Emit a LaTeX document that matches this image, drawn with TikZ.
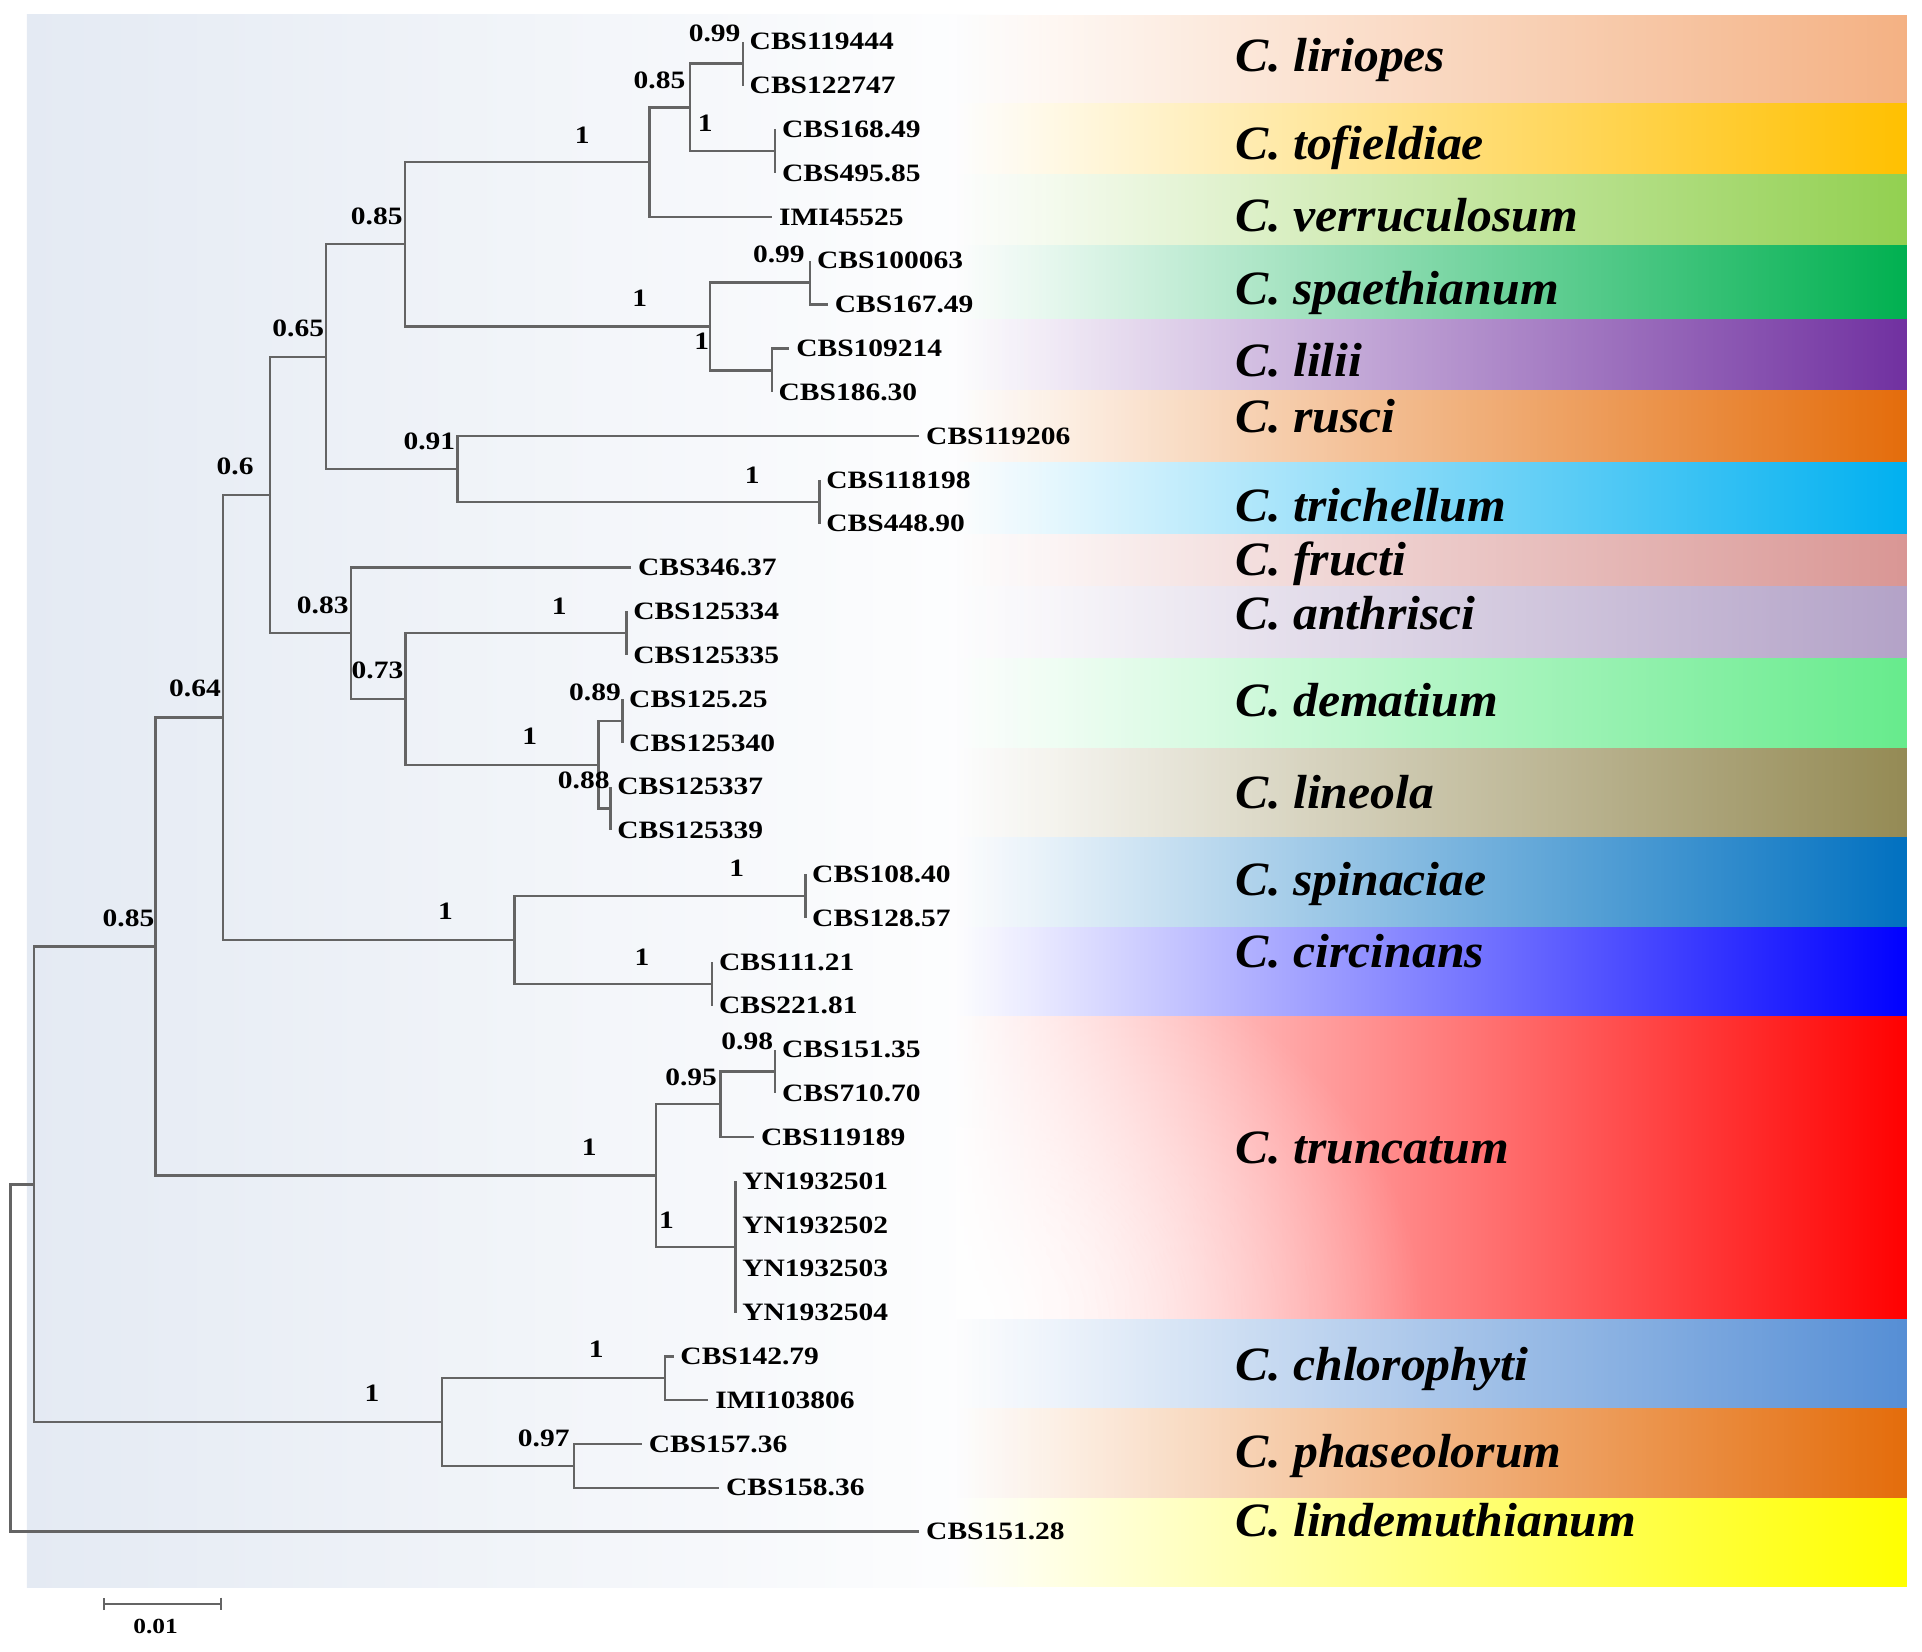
\documentclass[tikz,border=0pt]{standalone}
\usepackage{fontspec}
\setmainfont{Liberation Serif}
\newfontfamily\leaffont{Liberation Serif}[FakeStretch=1.18]
\newfontfamily\sppfont{Liberation Serif}[FakeStretch=1.04]
\usetikzlibrary{arrows.meta,fadings}

\definecolor{panelblue}{RGB}{228,234,243}
\definecolor{branchgray}{RGB}{100,100,100}
\definecolor{cliriopes}{RGB}{244,177,131}
\definecolor{ctofieldiae}{RGB}{255,192,0}
\definecolor{cverruculosum}{RGB}{146,208,80}
\definecolor{cspaethianum}{RGB}{0,176,80}
\definecolor{clilii}{RGB}{112,48,160}
\definecolor{crusci}{RGB}{228,108,10}
\definecolor{ctrichellum}{RGB}{0,176,240}
\definecolor{cfructi}{RGB}{217,150,148}
\definecolor{canthrisci}{RGB}{179,162,199}
\definecolor{cdematium}{RGB}{102,235,140}
\definecolor{clineola}{RGB}{148,138,84}
\definecolor{cspinaciae}{RGB}{0,112,192}
\definecolor{ccircinans}{RGB}{0,0,255}
\definecolor{ctruncatum}{RGB}{255,0,0}
\definecolor{cchlorophyti}{RGB}{85,142,213}
\definecolor{cphaseolorum}{RGB}{228,108,10}
\definecolor{clindemuthianum}{RGB}{255,255,0}

\tikzfading[name=band fade, left color=transparent!100, right color=transparent!0]
\tikzfading[name=corner fade, inner color=transparent!0, outer color=transparent!100]

\begin{document}
\begin{tikzpicture}[x=0.01cm, y=-0.01cm,
    leaf/.style={anchor=west, inner xsep=1.4pt, inner ysep=0.5pt, font=\leaffont\bfseries\fontsize{5.8}{7}\selectfont},
    boot/.style={inner sep=0pt, font=\leaffont\bfseries\fontsize{5.8}{7}\selectfont},
    spp/.style={anchor=base west, inner sep=0pt, font=\sppfont\bfseries\itshape\fontsize{11.1}{13}\selectfont},
    branch/.style={draw=branchgray, line width=0.55pt},
]
\useasboundingbox (0,0) rectangle (1568,1347);

% background panel and clade bands
\fill[left color=panelblue, right color=white] (22,12) rectangle (850,1295);
\foreach \ya/\yb/\sp in {12/84/liriopes, 84/142/tofieldiae, 142/200/verruculosum,
    200/260/spaethianum, 260/318/lilii, 318/377/rusci, 377/436/trichellum,
    436/478/fructi, 478/537/anthrisci, 537/610/dematium, 610/683/lineola,
    683/756/spinaciae, 756/829/circinans, 829/1076/truncatum,
    1076/1149/chlorophyti, 1149/1222/phaseolorum, 1222/1295/lindemuthianum}
  \fill[fill=c\sp, path fading=band fade] (780,\ya) rectangle (1556,\yb);
\begin{scope}
  \clip (780,829) rectangle (1556,1076);
  \fill[white, path fading=corner fade] (780,1080) ellipse [x radius=380, y radius=320];
\end{scope}

% species names
\foreach \yy/\sp in {58/liriopes, 130.5/tofieldiae, 188.8/verruculosum,
    248.7/spaethianum, 307/lilii, 352.8/rusci, 425.3/trichellum,
    469.4/fructi, 513.7/anthrisci, 584.5/dematium, 659.5/lineola,
    730.3/spinaciae, 788.9/circinans, 949.3/truncatum,
    1126.1/chlorophyti, 1196.8/phaseolorum, 1253.7/lindemuthianum}
  \node[spp] (sp\sp) at (1007,\yy) {C. \sp};

% leaves
\foreach \x/\lab [count=\i from 0] in {606/CBS119444, 606/CBS122747,
    632.5/CBS168.49, 632.5/CBS495.85, 630/IMI45525, 661/CBS100063,
    675.5/CBS167.49, 644/CBS109214, 629.6/CBS186.30, 750/CBS119206,
    668.6/CBS118198, 668.6/CBS448.90, 515/CBS346.37, 511/CBS125334,
    511/CBS125335, 507.7/CBS125.25, 507.7/CBS125340, 498/CBS125337,
    498/CBS125339, 657/CBS108.40, 657/CBS128.57, 581/CBS111.21,
    581/CBS221.81, 632.5/CBS151.35, 632.5/CBS710.70, 615.3/CBS119189,
    600/YN1932501, 600/YN1932502, 600/YN1932503, 600/YN1932504,
    549.5/CBS142.79, 578/IMI103806, 523.7/CBS157.36, 586.7/CBS158.36,
    750/CBS151.28}
  \node[leaf] (l\i) at (\x,{34+35.75*\i}) {\lab};

% internal nodes
\coordinate (n01) at (606,51.9);
\coordinate (n23) at (632.5,123.4);
\coordinate (n0123) at (563,87.6);
\coordinate (n04) at (530,132.3);
\coordinate (n56) at (661,230.6);
\coordinate (n78) at (629.6,302.1);
\coordinate (n58) at (579.3,266.4);
\coordinate (n08) at (330.3,199.3);
\coordinate (n1011) at (668.6,409.4);
\coordinate (n911) at (373.2,382.6);
\coordinate (n011) at (266.2,291);
\coordinate (n1314) at (511,516.6);
\coordinate (n1516) at (507.7,588.1);
\coordinate (n1718) at (498,659.6);
\coordinate (n1518) at (488.3,623.9);
\coordinate (n1318) at (330.8,570.3);
\coordinate (n1218) at (286.2,516.6);
\coordinate (n018) at (220.4,403.8);
\coordinate (n1920) at (657,731.1);
\coordinate (n2122) at (581,802.6);
\coordinate (n1922) at (419.6,766.9);
\coordinate (n022) at (182,585.3);
\coordinate (n2324) at (632.5,874.1);
\coordinate (n2325) at (587.9,900.9);
\coordinate (n2629) at (600,1017.1);
\coordinate (n2329) at (535.2,959);
\coordinate (n029) at (127,772.2);
\coordinate (n3031) at (542.6,1124.4);
\coordinate (n3233) at (468.2,1195.9);
\coordinate (n3033) at (360.6,1160.1);
\coordinate (n033) at (27.5,966.2);
\coordinate (root) at (8.6,1107.8);

% branches
\foreach \p/\c in {n01/l0, n01/l1, n23/l2, n23/l3, n0123/n01, n0123/n23,
    n04/n0123, n04/l4, n56/l5, n56/l6, n78/l7, n78/l8, n58/n56, n58/n78,
    n08/n04, n08/n58, n1011/l10, n1011/l11, n911/l9, n911/n1011,
    n011/n08, n011/n911, n1314/l13, n1314/l14, n1516/l15, n1516/l16,
    n1718/l17, n1718/l18, n1518/n1516, n1518/n1718, n1318/n1314,
    n1318/n1518, n1218/l12, n1218/n1318, n018/n011, n018/n1218,
    n1920/l19, n1920/l20, n2122/l21, n2122/l22, n1922/n1920, n1922/n2122,
    n022/n018, n022/n1922, n2324/l23, n2324/l24, n2325/n2324, n2325/l25,
    n2629/l26, n2629/l27, n2629/l28, n2629/l29, n2329/n2325, n2329/n2629,
    n029/n022, n029/n2329, n3031/l30, n3031/l31, n3233/l32, n3233/l33,
    n3033/n3031, n3033/n3233, n033/n029, n033/n3033, root/n033, root/l34}
  \draw[branch] (\p) |- (\c);

% support values
\node[boot] (s01) at (583,27) {0.99};
\node[boot] (s0123) at (538,65.6) {0.85};
\node[boot] (s23) at (575.3,100.5) {1};
\node[boot] (s04) at (475,110) {1};
\node[boot] (s08) at (307.4,176.9) {0.85};
\node[boot] (s56) at (635.4,207.5) {0.99};
\node[boot] (s58) at (522,243.3) {1};
\node[boot] (s78) at (572.4,278.3) {1};
\node[boot] (s011) at (243.3,268) {0.65};
\node[boot] (s911) at (350.3,359.9) {0.91};
\node[boot] (s1011) at (613.6,387.5) {1};
\node[boot] (s018) at (191.8,380.2) {0.6};
\node[boot] (s1218) at (263.3,493.5) {0.83};
\node[boot] (s1314) at (456.2,494.4) {1};
\node[boot] (s1318) at (308,546.9) {0.73};
\node[boot] (s1516) at (485.4,565.2) {0.89};
\node[boot] (s1518) at (432.2,600.8) {1};
\node[boot] (s1718) at (476.2,636.3) {0.88};
\node[boot] (s022) at (159.1,561.4) {0.64};
\node[boot] (s1920) at (601,708) {1};
\node[boot] (s1922) at (363.5,743.5) {1};
\node[boot] (s2122) at (523.8,780.8) {1};
\node[boot] (s029) at (104.8,748.8) {0.85};
\node[boot] (s2324) at (609.6,849.9) {0.98};
\node[boot] (s2325) at (563.8,879) {0.95};
\node[boot] (s2329) at (480.8,936) {1};
\node[boot] (s2629) at (543.8,995.4) {1};
\node[boot] (s3031) at (486.5,1100.9) {1};
\node[boot] (s3033) at (303.4,1136.5) {1};
\node[boot] (s3233) at (443.6,1173.7) {0.97};

% scale bar
\coordinate (sbl) at (84,1308.5);
\coordinate (sbr) at (181.5,1308.5);
\draw[branch, {Bar[width=2.9pt]}-{Bar[width=2.9pt]}] (sbl) -- (sbr);
\node[boot, font=\leaffont\bfseries\fontsize{5}{6}\selectfont] (sblab) at (127,1326.5) {0.01};
\end{tikzpicture}
\end{document}
